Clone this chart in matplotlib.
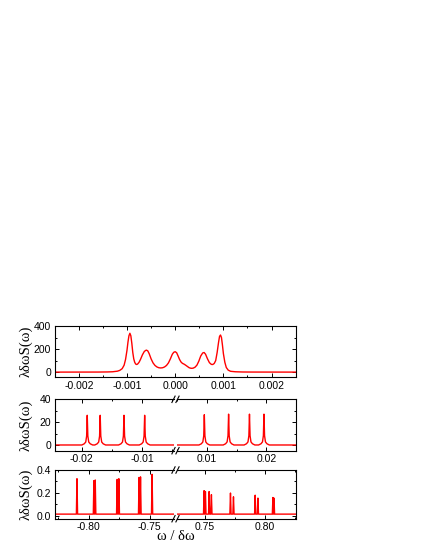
import numpy as np
import matplotlib
matplotlib.use('Agg')
import matplotlib.pyplot as plt
from matplotlib.lines import Line2D
from matplotlib.ticker import MultipleLocator, FormatStrFormatter

plt.rcParams['font.family'] = ['Liberation Sans', 'DejaVu Sans']
plt.rcParams['axes.unicode_minus'] = False

# panel 1: central part of the spectrum (omega given in units of 1e-3)
top_w_milli = [-2.5, -1.6, -1.4, -1.3, -1.2, -1.15, -1.10, -1.06, -1.03, -1.00,
               -0.98, -0.96, -0.94, -0.92, -0.90, -0.88, -0.86, -0.84, -0.82, -0.80,
               -0.78, -0.75, -0.72, -0.68, -0.64, -0.60, -0.57, -0.54, -0.50, -0.46,
               -0.42, -0.38, -0.34, -0.30, -0.26, -0.22, -0.18, -0.14, -0.10, -0.06,
               -0.03, 0.00, 0.03, 0.06, 0.09, 0.12, 0.15, 0.18, 0.21, 0.25,
               0.29, 0.33, 0.37, 0.41, 0.45, 0.49, 0.53, 0.57, 0.60, 0.63,
               0.67, 0.71, 0.75, 0.78, 0.81, 0.84, 0.87, 0.90, 0.92, 0.94,
               0.96, 0.98, 1.00, 1.03, 1.06, 1.10, 1.15, 1.25, 1.4, 1.6, 2.5]
top_s = [0, 0.5, 1.5, 3, 8, 15, 30, 60, 110, 190,
         260, 315, 337, 315, 250, 170, 115, 85, 70, 66,
         70, 85, 110, 150, 180, 191, 185, 160, 115, 80,
         58, 45, 38, 36, 38, 45, 58, 80, 115, 155,
         172, 177, 168, 140, 110, 88, 76, 70, 62, 50,
         38, 33, 34, 42, 60, 95, 140, 166, 170, 155,
         115, 82, 67, 66, 75, 100, 170, 260, 310, 322,
         300, 235, 160, 85, 40, 17, 7, 3, 1, 0.5, 0]

# panel 2: isolated peaks
mid_w = [-0.0191, -0.01695, -0.0130, -0.00957, 0.00958, 0.01365, 0.01715, 0.01958]
mid_s = [26, 26, 26, 26, 26.5, 27, 27, 27]
mid_base = 0.0
mid_shape_dw = [-0.0009, -0.0005, -0.00025, -0.0001, 0.0, 0.0001, 0.00025, 0.0005, 0.0009]
mid_shape_frac = [0, 0.04, 0.1, 0.3, 1, 0.3, 0.1, 0.04, 0]

# panel 3: outer peaks (pairs of close lines)
bot_w = [-0.8097, -0.7958, -0.7947, -0.7767, -0.7753, -0.7587, -0.7575, -0.7480,
         0.7496, 0.7507, 0.7538, 0.7557, 0.7716, 0.7741, 0.7922, 0.7945, 0.8070, 0.8079]
bot_s = [0.324, 0.307, 0.313, 0.318, 0.324, 0.335, 0.34, 0.362,
         0.22, 0.212, 0.212, 0.185, 0.199, 0.166, 0.18, 0.155, 0.16, 0.155]
bot_base = 0.015
bot_shape_dw = [-0.0005, 0.0, 0.0005]
bot_shape_frac = [0, 1, 0]

RED = '#ff0000'
W, H = 425.0, 550.0


def spikes(centers, heights, base, dw, frac, lo, hi):
    xs, ys = [lo], [base]
    for c, h in zip(centers, heights):
        if lo < c < hi:
            for d, f in zip(dw, frac):
                xs.append(c + d)
                ys.append(base + (h - base) * f)
    xs.append(hi)
    ys.append(base)
    return xs, ys


def style(ax):
    ax.tick_params(which='both', direction='in', top=True, right=True,
                   labelsize=7.5, width=0.7, pad=2.5)
    ax.tick_params(which='major', length=3)
    ax.tick_params(which='minor', length=1.6)
    for s in ax.spines.values():
        s.set_linewidth(0.8)


def box(l, r, t, b):
    return [l / W, 1 - b / H, (r - l) / W, (b - t) / H]


fig = plt.figure(figsize=(4.25, 5.5), dpi=100)

# ---- panel 1
ax1 = fig.add_axes(box(54.7, 295.7, 326, 377.3))
ax1.plot(np.array(top_w_milli) * 1e-3, top_s, color=RED, lw=1)
ax1.set_xlim(-0.0025, 0.0025)
ax1.set_ylim(-45, 400)
ax1.xaxis.set_major_locator(MultipleLocator(0.001))
ax1.xaxis.set_minor_locator(MultipleLocator(0.0005))
ax1.xaxis.set_major_formatter(FormatStrFormatter('%.3f'))
ax1.yaxis.set_major_locator(MultipleLocator(200))
ax1.yaxis.set_minor_locator(MultipleLocator(100))
style(ax1)


def broken_row(top, bottom, lims_l, lims_r, ylim, centers, heights, base, dw, frac,
               xmaj, xmin, xfmt, ymaj, ymin, yfmt):
    axl = fig.add_axes(box(54.7, 174, top, bottom))
    axr = fig.add_axes(box(177, 295.7, top, bottom))
    for ax, lims in ((axl, lims_l), (axr, lims_r)):
        xs, ys = spikes(centers, heights, base, dw, frac, lims[0], lims[1])
        ax.plot(xs, ys, color=RED, lw=1)
        ax.set_xlim(*lims)
        ax.set_ylim(*ylim)
        ax.xaxis.set_major_locator(MultipleLocator(xmaj))
        ax.xaxis.set_minor_locator(MultipleLocator(xmin))
        ax.xaxis.set_major_formatter(FormatStrFormatter(xfmt))
        ax.yaxis.set_major_locator(MultipleLocator(ymaj))
        ax.yaxis.set_minor_locator(MultipleLocator(ymin))
        ax.yaxis.set_major_formatter(FormatStrFormatter(yfmt))
        style(ax)
    axl.spines['right'].set_visible(False)
    axl.tick_params(which='both', right=False)
    axr.spines['left'].set_visible(False)
    axr.tick_params(which='both', left=False, labelleft=False)
    # break marks //
    for ypx in (top, bottom):
        for xpx in (173.5, 177.5):
            fig.add_artist(Line2D([(xpx - 1.6) / W, (xpx + 1.6) / W],
                                  [1 - (ypx + 3.2) / H, 1 - (ypx - 3.2) / H],
                                  color='black', lw=0.8))
    return axl, axr


broken_row(399.3, 450.7, (-0.0245, -0.0047), (0.0050, 0.0249), (-5, 40),
           mid_w, mid_s, mid_base, mid_shape_dw, mid_shape_frac,
           0.01, 0.005, '%.2f', 20, 10, '%d')
broken_row(470, 518.7, (-0.828, -0.730), (0.727, 0.826), (-0.025, 0.4),
           bot_w, bot_s, bot_base, bot_shape_dw, bot_shape_frac,
           0.05, 0.025, '%.2f', 0.2, 0.1, '%.1f')

# y labels and x label
for yc in ((326 + 377.3) / 2, (399.3 + 450.7) / 2, (470 + 518.7) / 2):
    fig.text(26 / W, 1 - yc / H, 'λδωS(ω)', rotation=90, ha='center', va='center',
             fontsize=10.5, family=['Liberation Serif', 'DejaVu Serif'])
fig.text(175.5 / W, 1 - 536 / H, 'ω / δω', ha='center', va='center',
         fontsize=10.5, family=['Liberation Serif', 'DejaVu Serif'])

fig.savefig('out.png', dpi=100)
